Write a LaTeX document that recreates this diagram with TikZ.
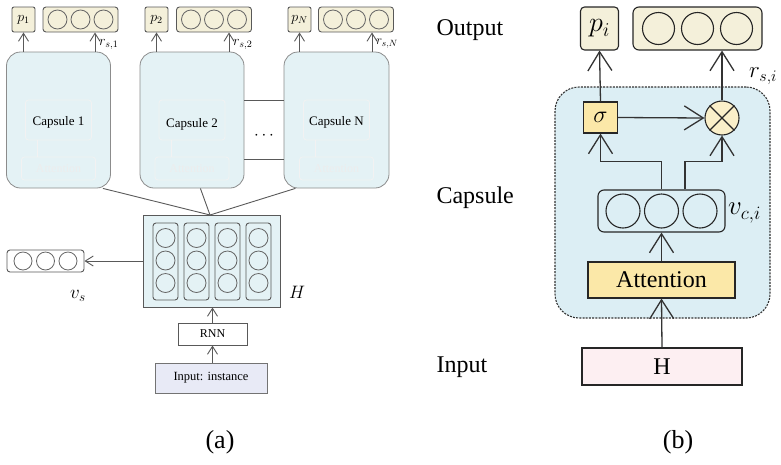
\RequirePackage{fix-cm}
\documentclass[tikz,border=0pt]{standalone}
\usepackage{fontspec}
\setmainfont{Liberation Serif}
\usetikzlibrary{arrows.meta,calc}
\definecolor{capfill}{HTML}{E4F2F5}
\definecolor{capfillb}{HTML}{DCEEF4}
\definecolor{beige}{HTML}{F4F0DA}
\definecolor{yel}{HTML}{FBE8A8}
\definecolor{yelc}{HTML}{FAEFC9}
\definecolor{lav}{HTML}{E8EAF6}
\definecolor{pinkf}{HTML}{FDEFF2}
\newcommand{\fsz}[1]{\fontsize{#1}{#1}\selectfont}
\begin{document}
\begin{tikzpicture}[x=1pt,y=-1pt,
  lineA/.style={draw=black!65, line width=0.9pt},
  arA/.style={-{Straight Barb[length=8pt,width=10pt,line width=0.9pt]}, draw=black!65, line width=0.9pt},
  arB/.style={-{Straight Barb[length=19pt,width=24pt,line width=1.3pt]}, draw=black!80, line width=1.3pt},
  capA/.style={draw=black!45, fill=capfill, rounded corners=14pt, minimum width=104pt, minimum height=136pt, inner sep=0pt, line width=0.8pt},
  pboxA/.style={draw=black!65, fill=beige, rounded corners=2pt, minimum width=23pt, minimum height=25pt, inner sep=0pt, line width=0.9pt},
  rboxA/.style={draw=black!65, fill=beige, rounded corners=3pt, minimum width=75pt, minimum height=25pt, inner sep=0pt, line width=0.9pt},
  circA/.style={circle, draw=black!60, minimum size=19pt, inner sep=0pt, line width=0.8pt},
  plainA/.style={draw=black!65, minimum height=22pt, inner sep=0pt, line width=0.9pt},
  boxB/.style={draw=black!85, inner sep=0pt, line width=1.1pt},
  circB/.style={circle, draw=black!85, minimum size=32pt, inner sep=0pt, line width=1.1pt},
  ghost/.style={draw=black!5, line width=0.7pt},
  lblB/.style={font=\fsz{24}, anchor=west}
]
\useasboundingbox (0,0) rectangle (781,464);

% ---------------- panel (a) ----------------
\node[capA] (c1) at (58.5,120) {};
\node[capA] (c2) at (192,120) {};
\node[capA, minimum width=105pt] (cN) at (336.5,120) {};

% faint ghost contents of the capsules
\foreach \cx in {58.5,192,336.5}{
  \draw[ghost, rounded corners=3pt] (\cx-37,157) rectangle (\cx+37,180);
  \node[text=black!7, font=\fsz{12}] at (\cx,168.5) {Attention};
  \draw[ghost, rounded corners=3pt] (\cx-33,100) rectangle (\cx+33,140);
  \draw[ghost] (\cx-21,140) -- (\cx-21,157);
}

\node[font=\fsz{13}] (c1t) at (58.5,122) {Capsule 1};
\node[font=\fsz{13}] (c2t) at (192,124) {Capsule 2};
\node[font=\fsz{13}] (cNt) at (336.5,122) {Capsule N};

\draw[lineA] (c2.east |- 0,100) -- (cN.west |- 0,100);
\draw[lineA] (c2.east |- 0,159) -- (cN.west |- 0,159);
\node[font=\fsz{17}] (dots) at (264,136) {$\cdots$};

% outputs
\node[pboxA] (p1) at (23.5,19.5) {\fsz{14}$p_1$};
\node[rboxA] (r1) at (80.5,19.5) {};
\node[pboxA] (p2) at (156.5,19.5) {\fsz{14}$p_2$};
\node[rboxA] (r2) at (214,19.5) {};
\node[pboxA] (pN) at (299.5,19.5) {\fsz{14}$p_N$};
\node[rboxA] (rN) at (356,19.5) {};
\foreach \r in {r1,r2,rN}{
  \foreach \dx/\k in {-23/a,0/b,23/c}{
    \node[circA] (\r\k) at ([xshift=\dx pt]\r.center) {};
  }
}
\draw[arA] (c1.north -| p1.south) -- (p1.south);
\draw[arA] (c2.north -| p2.south) -- (p2.south);
\draw[arA] (cN.north -| pN.south) -- (pN.south);
\coordinate (r1in) at ([xshift=14.5pt]r1.south);
\coordinate (r2in) at ([xshift=15pt]r2.south);
\coordinate (rNin) at ([xshift=16pt]rN.south);
\draw[arA] (c1.north -| r1in) -- (r1in);
\draw[arA] (c2.north -| r2in) -- (r2in);
\draw[arA] (cN.north -| rNin) -- (rNin);
\node[anchor=west, font=\fsz{14}, inner sep=0pt] (l1) at (99,44) {$r_{s,1}$};
\node[anchor=west, font=\fsz{14}, inner sep=0pt] (l2) at (233,44) {$r_{s,2}$};
\node[anchor=west, font=\fsz{13}, inner sep=0pt] (lN) at (376,44) {$r_{s,N}$};

% H matrix
\node[draw=black!65, fill=capfill, minimum width=137pt, minimum height=92pt, inner sep=0pt, line width=0.9pt] (H) at (211.5,261) {};
\foreach \cx/\k in {165.5/1,196.5/2,227.5/3,258.5/4}{
  \node[draw=black!65, rounded corners=3pt, minimum width=25pt, minimum height=77pt, inner sep=0pt, line width=0.9pt] (col\k) at (\cx,261.5) {};
  \foreach \cy/\j in {238/a,260.5/b,283/c}{
    \node[circA] (h\k\j) at (\cx,\cy) {};
  }
}
\node[font=\fsz{18}] (Hl) at (297,292) {$H$};

% lines from capsules to H
\coordinate (Htop) at (210,215);
\draw[lineA] (c1.-57) -- (Htop);
\draw[lineA] (c2.-83) -- (Htop);
\draw[lineA] (cN.-121) -- (Htop);

% v_s
\node[draw=black!65, rounded corners=3pt, minimum width=77pt, minimum height=22pt, inner sep=0pt, line width=0.9pt] (vs) at (45.5,261) {};
\foreach \dx/\k in {-22.5/a,0/b,22.5/c}{
  \node[circA, minimum size=18pt] (vs\k) at ([xshift=\dx pt]vs.center) {};
}
\draw[arA] (H.west) -- (vs.east);
\node[font=\fsz{19}] (vsl) at (78,296) {$v_s$};

% RNN and input
\node[plainA, minimum width=69pt, font=\fsz{12}] (rnn) at (212.5,334) {RNN};
\node[draw=black!55, fill=lav, minimum width=112pt, minimum height=30pt, inner sep=0pt, line width=0.9pt, font=\fsz{12.5}] (inp) at (211,378) {Input: instance};
\draw[arA] (rnn.north) -- (rnn.north |- H.south);
\draw[arA] (inp.north -| rnn.south) -- (rnn.south);

\node[font=\fsz{26}] (capa) at (220,442) {(a)};

% ---------------- panel (b) ----------------
\node[lblB] (lo) at (433,30) {Output};
\node[lblB] (lc) at (433,198) {Capsule};
\node[lblB] (li) at (433,367) {Input};

\node[draw=black!80, dash pattern=on 2pt off 1.2pt, line width=1.1pt, fill=capfillb, rounded corners=24pt, minimum width=215pt, minimum height=231pt, inner sep=0pt] (capb) at (662.5,202.5) {};

\node[boxB, fill=beige, rounded corners=4pt, minimum width=38pt, minimum height=43pt] (pi) at (599.5,28.5) {\fsz{28}$p_i$};
\node[boxB, fill=beige, rounded corners=6pt, minimum width=129pt, minimum height=43pt] (ri) at (697.5,28.5) {};
\foreach \dx/\k in {-39/a,0/b,39/c}{
  \node[circB] (ri\k) at ([xshift=\dx pt]ri.center) {};
}

\node[boxB, fill=yel, minimum width=34pt, minimum height=31pt] (sig) at (600.5,117.5) {\fsz{24}$\sigma$};
\node[circle, draw=black!85, line width=1.1pt, fill=yelc, minimum size=34pt, inner sep=0pt] (ot) at (722,118) {};
\draw[line width=1.1pt, black!85] (ot.45) -- (ot.225) (ot.135) -- (ot.315);

\node[boxB, rounded corners=6pt, minimum width=127pt, minimum height=42pt] (vb) at (661.5,211) {};
\foreach \dx/\k in {-38.5/a,0/b,38.5/c}{
  \node[circB, minimum size=34pt] (vb\k) at ([xshift=\dx pt]vb.center) {};
}
\node[boxB, fill=yel, minimum width=147pt, minimum height=36pt, font=\fsz{24}] (att) at (661.5,280) {Attention};
\node[boxB, fill=pinkf, minimum width=160pt, minimum height=37pt, font=\fsz{24}] (Hb) at (662,366.5) {H};

\draw[arB] (Hb.north) -- (att.south);
\draw[arB] (att.north) -- (vb.south);
\draw[arB] (vb.north) -- ++(0,-28) -| (sig.south);
\draw[arB] ([xshift=23.5pt]vb.north) -- ++(0,-28) -| (ot.south);
\draw[arB] (sig.east) -- (ot.west);
\draw[arB] (sig.north) -- (pi.south);
\draw[arB] (ot.north) -- (ot.north |- ri.south);

\node[anchor=west, font=\fsz{23}, inner sep=0pt] (rsi) at (749,76) {$r_{s,i}$};
\node[anchor=west, font=\fsz{27}, inner sep=0pt] (vci) at (728,213) {$v_{c,i}$};

\node[font=\fsz{26}] (capbl) at (678,442) {(b)};
\end{tikzpicture}
\end{document}
